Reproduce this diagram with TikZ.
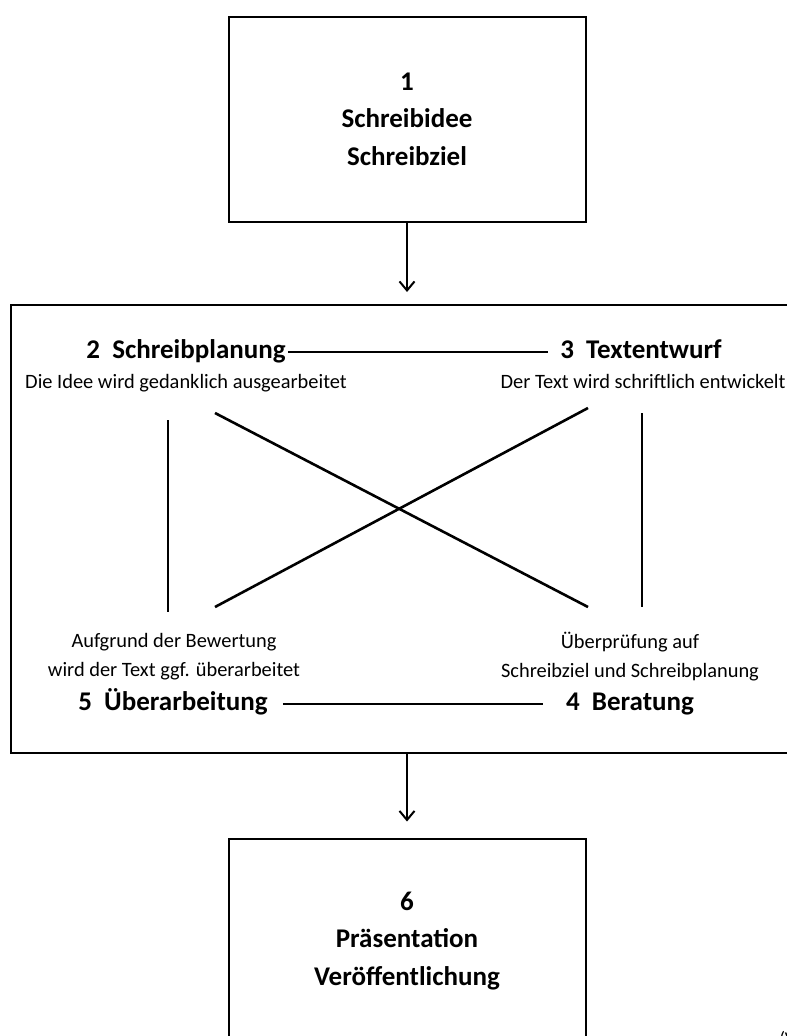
\documentclass[tikz,border=0pt]{standalone}
\usepackage{fontspec}
\setmainfont{Carlito}
\usetikzlibrary{arrows.meta,positioning}

\begin{document}
\begin{tikzpicture}[
    x=1pt, y=-1pt,
    stagebox/.style={rectangle, draw=black, line width=2pt, align=center, text centered, minimum width=357pt, minimum height=205pt, font=\bfseries\fontsize{27}{37.5}\selectfont},
    workbox/.style={rectangle, draw=black, line width=2pt, minimum width=792pt, minimum height=448pt},
    phase/.style={inner sep=2pt, text height=18pt, text depth=6pt, font=\bfseries\fontsize{27}{30}\selectfont},
    detail/.style={align=center, inner sep=2pt, font=\fontsize{20.4}{28.5}\selectfont},
    link/.style={line width=2.6pt},
    arrow/.style={-{Straight Barb[length=9pt,width=15pt]}, line width=2pt}
]
    \useasboundingbox (0,0) rectangle (787,1036);

    % Boxes
    \node (idea) [stagebox] at (407,119) {1\\Schreibidee\\Schreibziel};
    \node (cycle) [workbox] at (407,529) {};
    \node (present) [stagebox] at (407,941) {6\\Präsentation\\Veröffentlichung};

    % Phases inside the cycle
    \node (plan) [phase, anchor=base] at (186,358) {2~~Schreibplanung};
    \node (draft) [phase, anchor=base] at (641,358) {3~~Textentwurf};
    \node (revise) [phase, anchor=base] at (173,710) {5~~Überarbeitung};
    \node (advise) [phase, anchor=base] at (630,710) {4~~Beratung};

    \node (plan_note) [detail, anchor=base] at (186,388) {Die Idee wird gedanklich ausgearbeitet};
    \node (draft_note) [detail, anchor=base] at (643,388) {Der Text wird schriftlich entwickelt};
    \node (revise_note) [detail, anchor=base] at (174,676) {Aufgrund der Bewertung\\wird der Text ggf. überarbeitet};
    \node (advise_note) [detail, anchor=base] at (630,677) {Überprüfung auf\\Schreibziel und Schreibplanung};

    % Ends of the cross lines
    \coordinate (plan_down) at (168,420);
    \coordinate (revise_up) at (168,612);
    \coordinate (draft_down) at (642,413);
    \coordinate (advise_up) at (642,607);
    \coordinate (plan_cross) at (215,413);
    \coordinate (advise_cross) at (588,607);
    \coordinate (revise_cross) at (215,607);
    \coordinate (draft_cross) at (588,408);

    \node (source) [anchor=base west, font=\fontsize{18}{20}\selectfont] at (776,1044) {(V};

    % Arrows
    \draw [arrow, shorten >=12pt] (idea) -- (cycle);
    \draw [arrow, shorten >=16pt] (cycle) -- (present);

    % Lines
    \draw [link, shorten >=10pt] (plan.east) -- (draft.west);
    \draw [link, shorten <=13pt, shorten >=21pt] (revise.east) -- (advise.west);
    \draw [link] (plan_down) -- (revise_up);
    \draw [link] (draft_down) -- (advise_up);
    \draw [link] (plan_cross) -- (advise_cross);
    \draw [link] (revise_cross) -- (draft_cross);
\end{tikzpicture}
\end{document}
